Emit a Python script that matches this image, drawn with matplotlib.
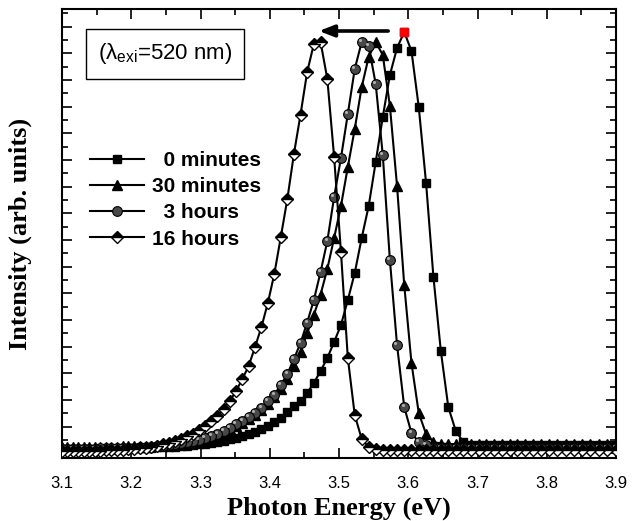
import matplotlib
matplotlib.use("Agg")
import matplotlib.pyplot as plt
import matplotlib.transforms as mtransforms
from matplotlib.ticker import MultipleLocator, FixedLocator
import numpy as np

plt.rcParams['font.family'] = ['Liberation Sans', 'DejaVu Sans']
plt.rcParams['mathtext.default'] = 'regular'

# emission wavelength grid (nm), 1 nm steps, shown as photon energy
wavelength = np.arange(318, 401)
energy = 1240.0 / wavelength

# intensities (arb. units), wavelength 318 -> 400 nm
int_0min = [13] * 18 + [
    13.5, 16, 27, 51, 107, 181, 275, 351, 407, 426, 410, 383, 341, 296, 252,
    220, 185, 158, 133, 116, 100, 87, 75, 65, 57, 52, 46, 40, 36, 32.5, 29,
    26.5, 24, 22.5, 20.5, 19, 17.5, 16.5, 15.5, 14.5, 13.7, 13, 12.5, 12, 11.5,
    11, 11, 10.7, 10.5, 10.2, 10, 10, 9.8, 9.6, 9.5,
    9.4, 9.3, 9.2, 9.1, 9.0, 8.9, 8.8, 8.7, 8.6, 8.5]
int_30min = [14] * 22 + [
    14.5, 16, 24, 45, 95, 173, 272, 352, 403, 416, 401, 371, 329, 291, 252,
    220, 189, 163.5, 143, 125, 106, 92, 79, 69, 61, 54, 48, 43, 39, 35, 32,
    29, 26, 23.5, 21.5, 20, 18.5, 17, 16, 15, 14, 13.5, 13, 12.7, 12.4, 12.1,
    11.9,
    11.8, 11.7, 11.6, 11.5, 11.4, 11.3, 11.3, 11.2, 11.2, 11.1, 11.1, 11.0,
    11.0, 11.0]
int_3h = [10.5] * 24 + [
    13, 16, 25, 51, 113, 198, 303, 374, 412, 416, 389, 344, 300, 261, 217,
    186, 158, 135.5, 115, 99, 84, 73, 63.5, 57, 50.5, 45, 41, 37, 34, 30, 27,
    24, 22, 20, 18.5, 17, 16, 15, 14, 13, 12.5, 12, 11.5, 11, 10.7, 10.4,
    10.2, 10,
    9.9, 9.8, 9.7, 9.6, 9.5, 9.4, 9.4, 9.3, 9.3, 9.2, 9.2]
int_16h = [8] * 31 + [
    9, 11, 19, 43, 100, 206, 301, 379, 416, 414, 386, 343.5, 304, 259, 221,
    184, 155, 131, 111, 92, 79, 67, 57, 49, 42, 37, 32, 28, 24.5, 22, 19.5,
    17.5, 15.5, 13.8, 12.3, 11.0, 10.2, 9.6, 9.1, 8.7, 8.4, 8.1,
    7.9, 7.7, 7.5, 7.4, 7.2, 7.1, 7.0, 6.9, 6.8, 6.7]

labels = ['  0 minutes', '30 minutes', '  3 hours', '16 hours']
peak_idx = int(np.argmax(int_0min))

fig = plt.figure(figsize=(6.35, 5.21), dpi=100)
ax = fig.add_axes([62 / 635, 63 / 521, 554 / 635, 449 / 521])

lw = 1.5
l0, = ax.plot(energy, int_0min, '-s', color='k', lw=lw, ms=6, mec='k',
              mfc='k', label=labels[0], zorder=2)
l1, = ax.plot(energy, int_30min, '-^', color='k', lw=lw, ms=7.5, mec='k',
              mfc='k', label=labels[1], zorder=3)
l2, = ax.plot(energy, int_3h, '-o', color='k', lw=lw, ms=7, mec='k',
              mfc='#484848', mew=0.8, label=labels[2], zorder=4)
# small highlight on the shaded spheres
hl = mtransforms.offset_copy(ax.transData, fig=fig, x=-1.2, y=1.2, units='points')
ax.plot(energy, int_3h, 'o', ms=2.2, color='#b0b0b0', mec='none',
        transform=hl, zorder=4.1)
l3, = ax.plot(energy, int_16h, '-D', color='k', lw=lw, ms=6.5, mec='k',
              mfc='k', mfcalt='white', fillstyle='top', mew=1,
              label=labels[3], zorder=5)

# highlighted peak of the as-prepared sample
ax.plot(energy[peak_idx], int_0min[peak_idx], 's', ms=6, color='#ff0000',
        mec='#ff0000', zorder=6)

# arrow showing the red shift
ax.annotate('', xy=(3.471, 427), xytext=(3.571, 427),
            arrowprops=dict(arrowstyle='-|>,head_length=0.9,head_width=0.35',
                            lw=2.6, color='k', shrinkA=0, shrinkB=0),
            zorder=7)

ax.text(0.186, 0.9, '(λ$_{exi}$=520 nm)', transform=ax.transAxes,
        ha='center', va='center', fontsize=16,
        bbox=dict(boxstyle='square,pad=0.55', fc='white', ec='k', lw=1))

leg = ax.legend(handles=[l0, l1, l2, l3], loc='upper left',
                bbox_to_anchor=(0.05, 0.684), frameon=False, borderpad=0,
                borderaxespad=0, handlelength=2.6, handletextpad=0.4,
                labelspacing=0.35, prop=dict(family='Liberation Sans',
                                             weight='bold', size=15))

ax.set_xlim(3.1, 3.9)
ax.set_ylim(0, 449)
ax.xaxis.set_major_locator(MultipleLocator(0.1))
ax.xaxis.set_minor_locator(MultipleLocator(0.05))
yt = 4.7 + 13.33 * np.arange(34)
ax.yaxis.set_major_locator(FixedLocator(yt[::2]))
ax.yaxis.set_minor_locator(FixedLocator(yt[1::2]))
ax.tick_params(which='both', direction='in', top=True, right=True, width=1.2)
ax.tick_params(which='major', length=7)
ax.tick_params(which='minor', length=4)
ax.tick_params(axis='x', labelsize=12, pad=13)
ax.tick_params(axis='y', labelleft=False)
for s in ax.spines.values():
    s.set_linewidth(1.5)

ax.set_xlabel('Photon Energy (eV)', family='Liberation Serif', weight='bold',
              fontsize=19, labelpad=4)
ax.set_ylabel('Intensity (arb. units)', family='Liberation Serif',
              weight='bold', fontsize=19, labelpad=18)

fig.savefig('out.png', dpi=100)
